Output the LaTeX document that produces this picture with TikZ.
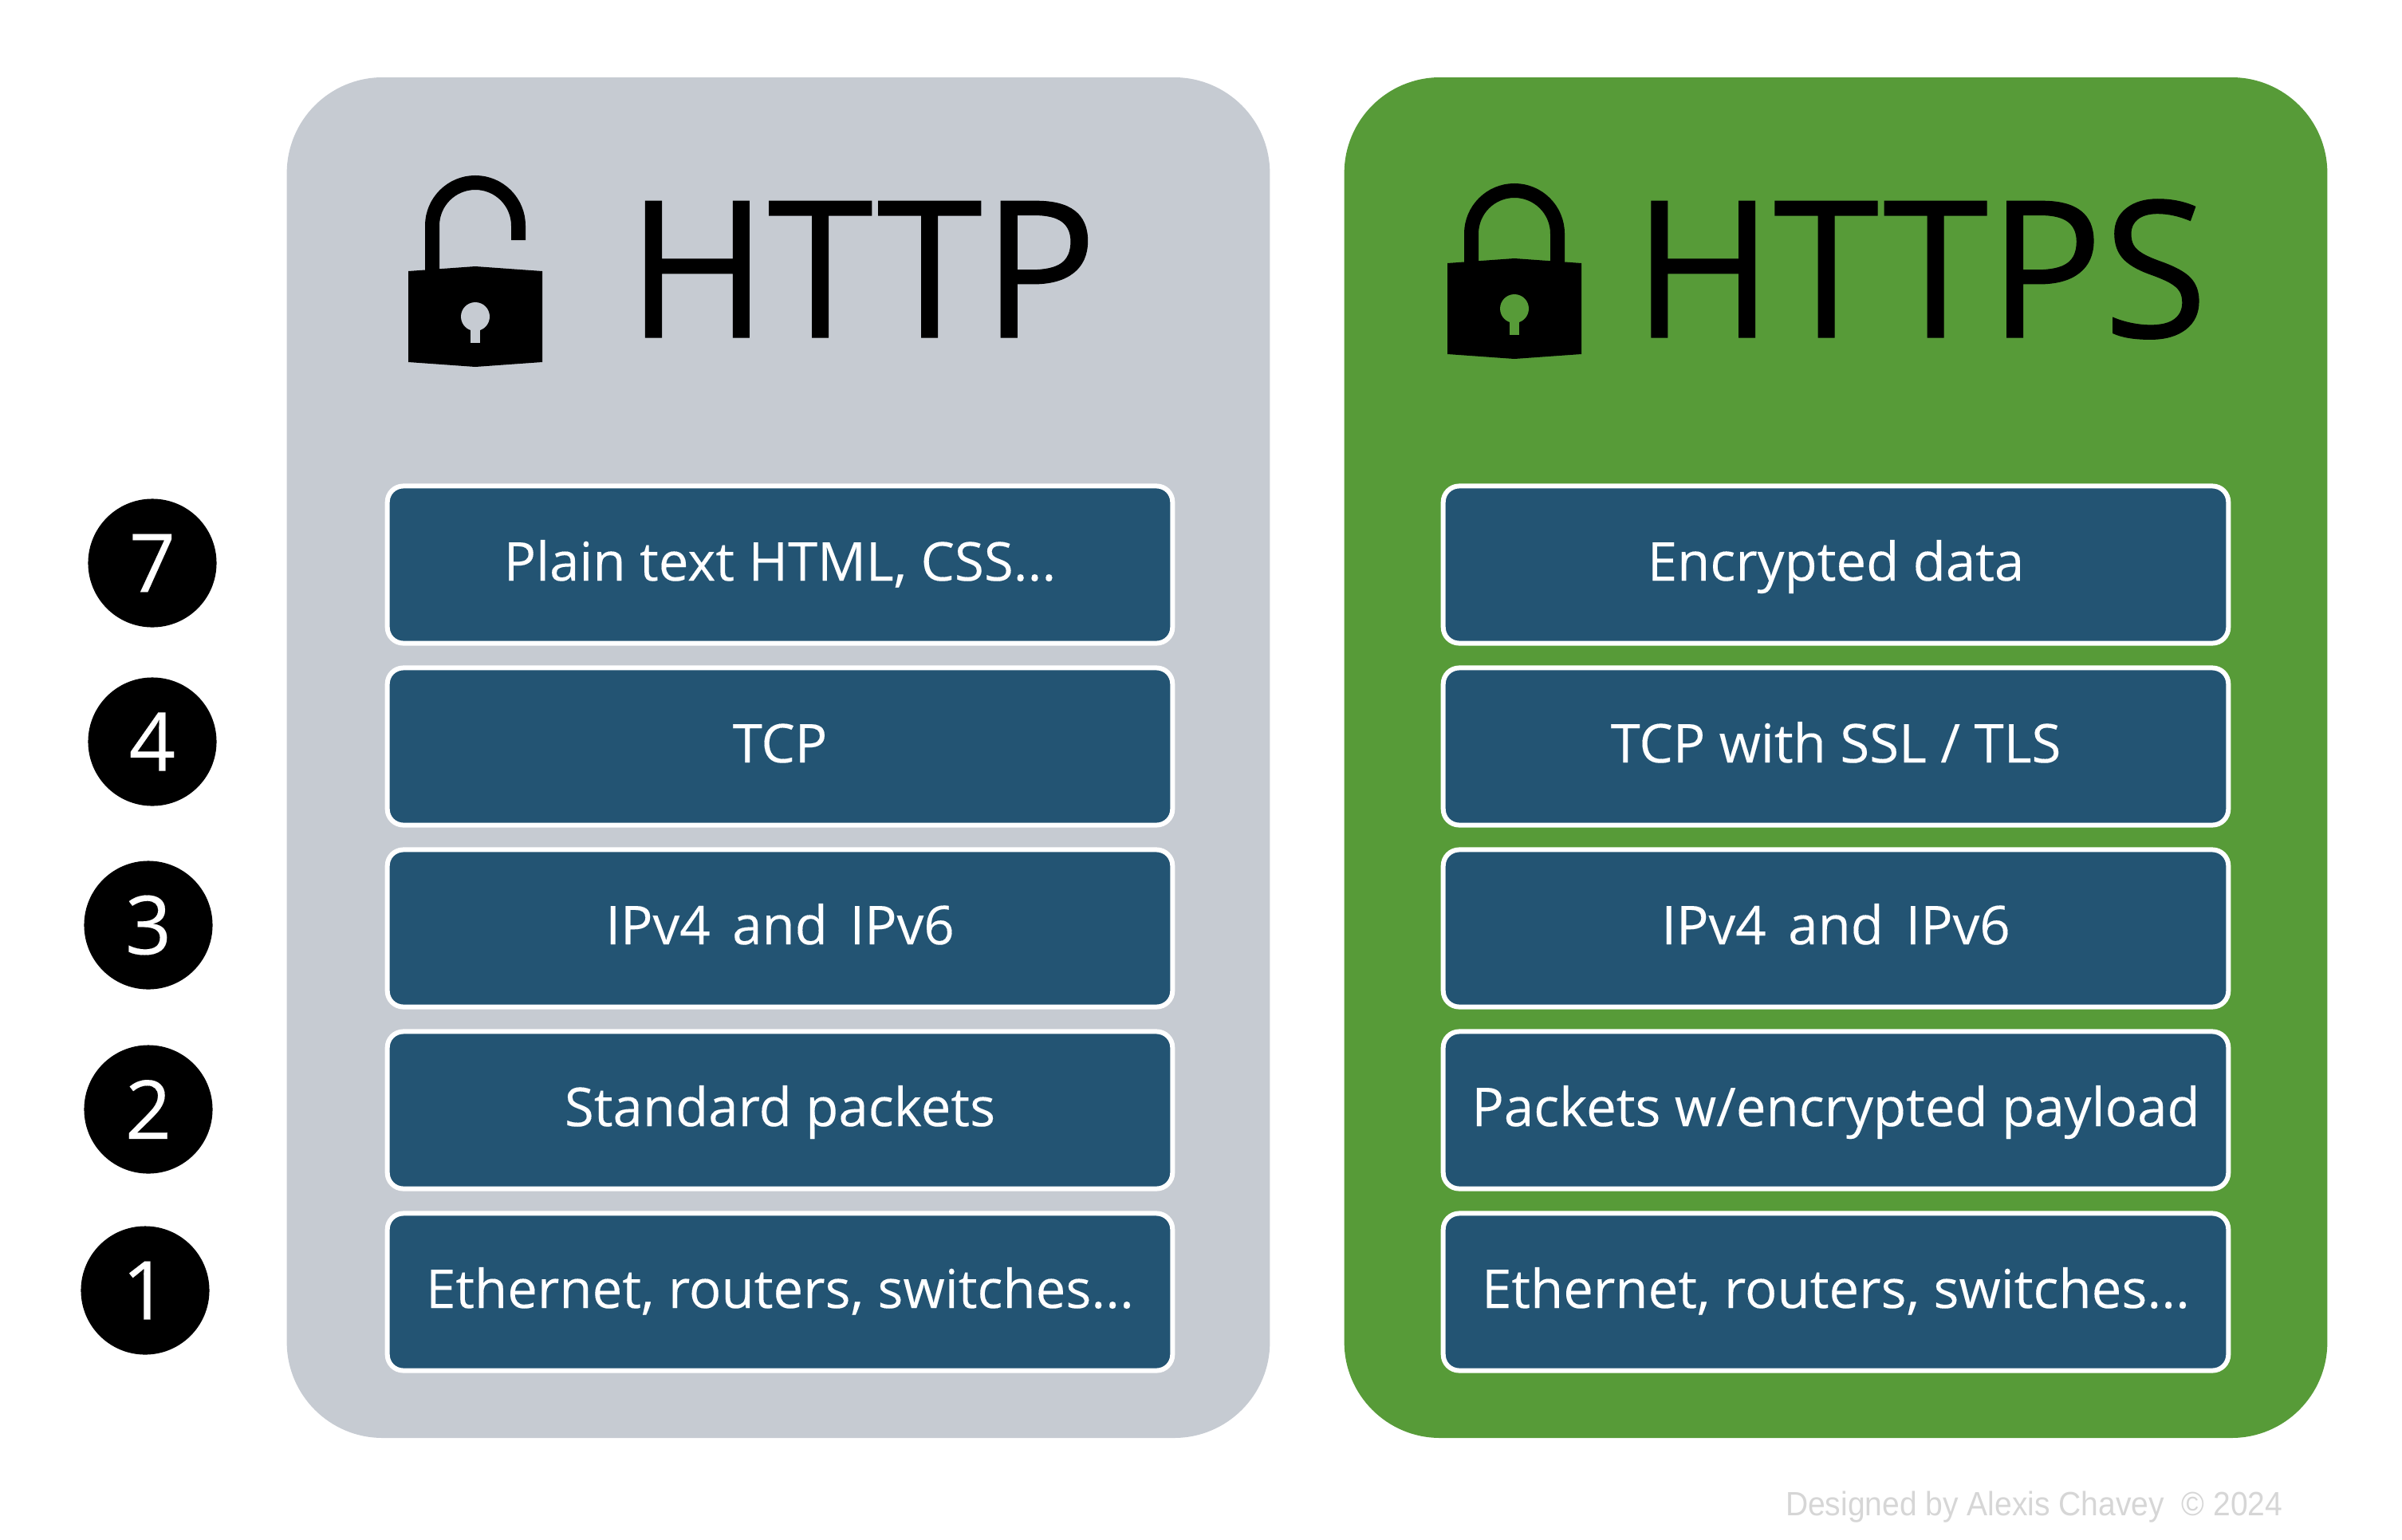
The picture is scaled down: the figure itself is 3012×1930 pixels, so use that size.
\documentclass[tikz,border=0pt]{standalone}
\usepackage{fontspec}
\setmainfont{Open Sans}[FakeBold=0.15]
\newfontfamily\titlefont{Open Sans}[FakeBold=0.5]
\newfontfamily\footfont{Liberation Sans}[FakeStretch=0.925]
\definecolor{panelgray}{HTML}{C6CBD2}
\definecolor{panelgreen}{HTML}{579B38}
\definecolor{layerblue}{HTML}{235473}
\definecolor{footgray}{HTML}{D6D6D6}

\begin{document}
\begin{tikzpicture}[x=0.01cm,y=-0.01cm]
    
    \tikzset{panel/.style = {shape=rectangle,rounded corners=1.2cm,minimum width=12.32cm,minimum height=17.05cm,inner sep=0}}
    \tikzset{layer/.style = {shape=rectangle,draw=white,line width=0.06cm,fill=layerblue,rounded corners=0.2cm,minimum width=9.84cm,minimum height=1.97cm,inner sep=0,text=white,text height=11.4pt,text depth=0pt,font=\fontsize{19.1}{24}\selectfont}}
    \tikzset{num/.style = {shape=circle,fill=black,minimum size=1.61cm,inner sep=0,text=white,font=\fontsize{29}{34}\selectfont}}
    \tikzset{title/.style = {anchor=base,inner sep=0,font=\fontsize{68}{80}\titlefont}}
    \tikzset{shackle/.style = {draw=black,line width=0.18cm}}
    \tikzset{lockbody/.pic = {
        \fill[black] (-84,0) -- (0,-6) -- (84,0) -- (84,114) -- (0,120) -- (-84,114) -- cycle;
        \fill[#1] (0,57) circle (18);
        \fill[#1] (-6,60) rectangle (6,90);
    }}
    \useasboundingbox (0,0) rectangle (3012,1930);
    %panels
    \node[panel,fill=panelgray] (httppanel) at (976,950) {};
    \node[panel,fill=panelgreen] (httpspanel) at (2302,950) {};
    %locks
    \draw[shackle] (542,345) -- (542,283) arc (180:360:54) -- (650,301);
    \pic at (596,340) {lockbody=panelgray};
    \draw[shackle] (1845,335) -- (1845,293) arc (180:360:54) -- (1953,335);
    \pic at (1899,330) {lockbody=panelgreen};
    %titles
    \node[title] (httptitle) at (1081,423) {HTTP};
    \node[title] (httpstitle) at (2408,423) {HTTPS};
    %layer numbers
    \node[num] (n7) at (191,706) {7};
    \node[num] (n4) at (191,930) {4};
    \node[num] (n3) at (186,1160) {3};
    \node[num] (n2) at (186,1391) {2};
    \node[num] (n1) at (182,1618) {1};
    %http layers
    \node[layer] (a7) at (978,708) {Plain text HTML, CSS...};
    \node[layer] (a4) at (978,936) {TCP};
    \node[layer] (a3) at (978,1164) {IPv4\hspace{0.41em}and\hspace{0.41em}IPv6};
    \node[layer] (a2) at (978,1392) {Standard packets};
    \node[layer] (a1) at (978,1620) {Ethernet, routers, switches...};
    %https layers
    \node[layer] (b7) at (2302,708) {Encrypted data};
    \node[layer] (b4) at (2302,936) {TCP with SSL / TLS};
    \node[layer] (b3) at (2302,1164) {IPv4\hspace{0.41em}and\hspace{0.41em}IPv6};
    \node[layer] (b2) at (2302,1392) {Packets w/encrypted payload};
    \node[layer] (b1) at (2302,1620) {Ethernet, routers, switches...};
    %footer
    \node[anchor=base east,inner sep=0,text=footgray,font=\fontsize{12}{14}\footfont] (credit) at (2863,1900) {Designed by Alexis Chavey\ \ © 2024};
\end{tikzpicture}
\end{document}
